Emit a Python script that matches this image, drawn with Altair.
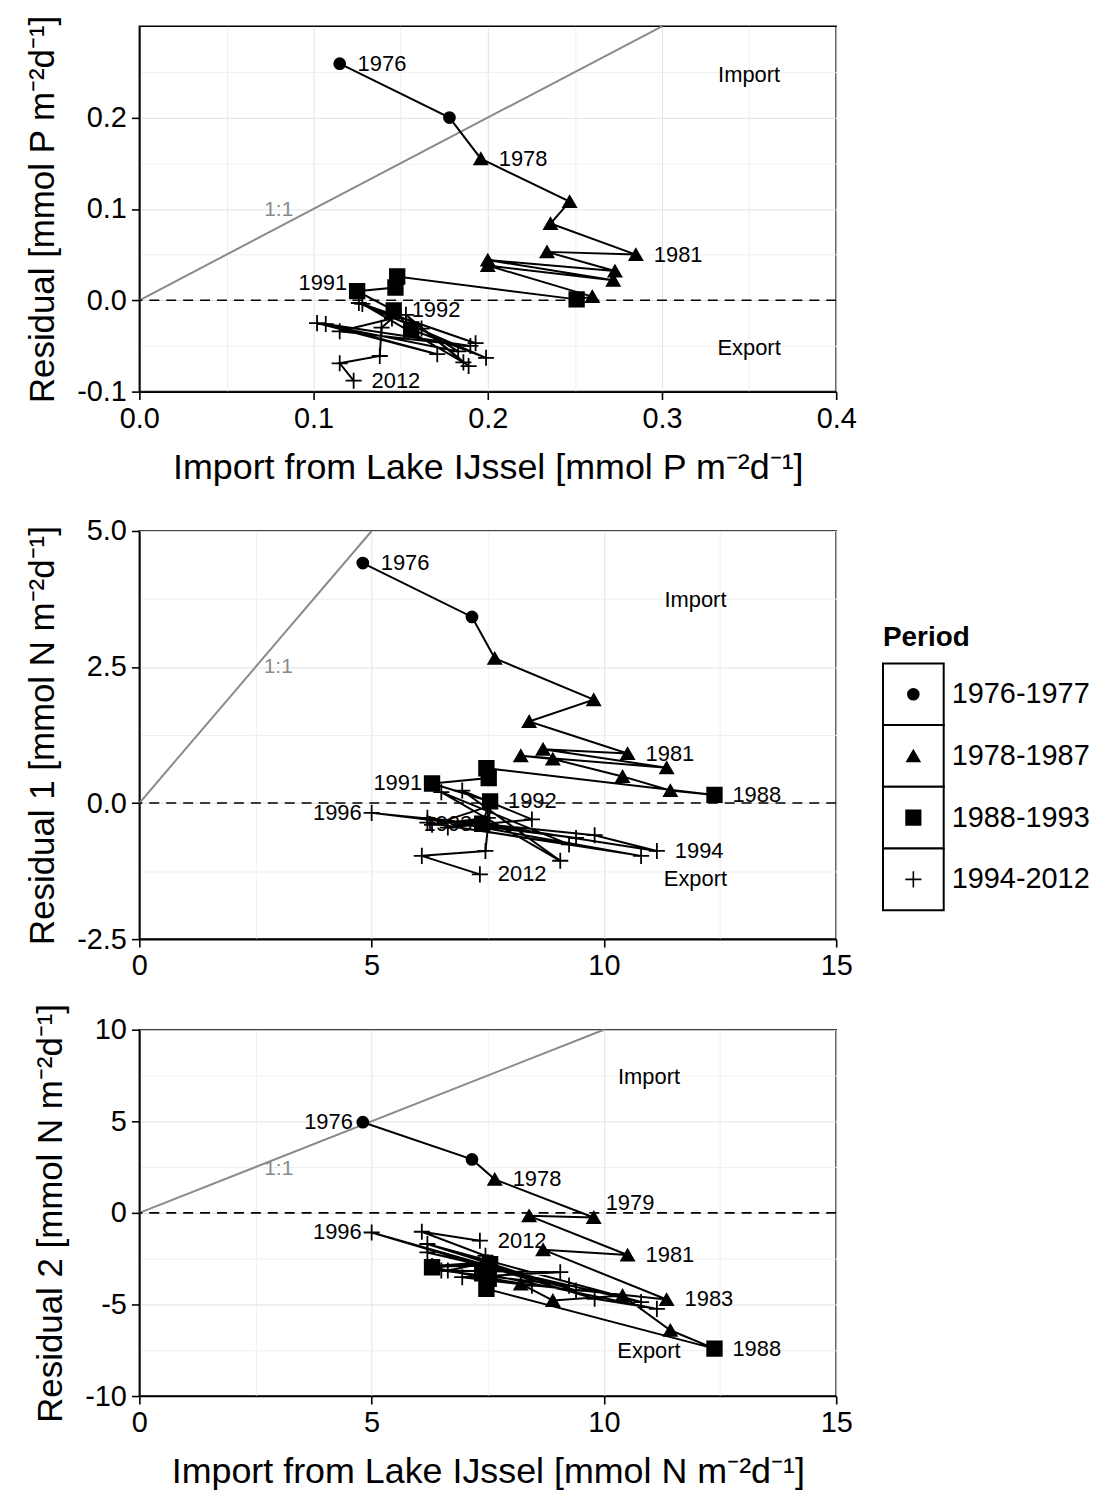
import altair as alt
import pandas as pd

YEARS = list(range(1976, 2013))
PERIOD_NAMES = ["1976-1977", "1978-1987", "1988-1993", "1994-2012"]
PERIOD_COUNTS = [2, 10, 6, 19]

P_IMPORT = [0.115, 0.178, 0.196, 0.247, 0.236, 0.285, 0.234, 0.273, 0.200, 0.272,
            0.200, 0.260, 0.251, 0.148, 0.147, 0.125, 0.146, 0.156,
            0.199, 0.126, 0.193, 0.128, 0.186, 0.153, 0.189, 0.162, 0.183, 0.102,
            0.171, 0.107, 0.190, 0.115, 0.145, 0.139, 0.138, 0.115, 0.123]
P_RESID = [0.259, 0.200, 0.155, 0.108, 0.084, 0.050, 0.053, 0.032, 0.044, 0.022,
           0.038, 0.004, 0.001, 0.026, 0.014, 0.010, -0.011, -0.032,
           -0.063, -0.003, -0.047, -0.004, -0.068, -0.016, -0.072, -0.031, -0.056, -0.025,
           -0.059, -0.026, -0.050, -0.034, -0.020, -0.030, -0.061, -0.069, -0.088]
N_IMPORT = [4.81, 7.16, 7.65, 9.78, 8.39, 10.51, 8.69, 11.35, 8.21, 8.90,
            10.40, 11.43, 12.38, 7.47, 7.52, 6.30, 7.55, 7.38,
            11.14, 9.80, 5.00, 9.40, 6.20, 10.80, 6.20, 9.25, 6.50, 9.06,
            6.95, 8.45, 6.64, 7.50, 6.30, 7.55, 7.45, 6.08, 7.33]
N_RESID1 = [4.41, 3.42, 2.66, 1.90, 1.50, 0.91, 0.99, 0.65, 0.87, 0.81,
            0.49, 0.23, 0.15, 0.64, 0.46, 0.36, 0.03, -0.38,
            -0.88, -0.59, -0.18, -0.64, -0.27, -0.97, -0.36, -0.76, 0.20, -1.06,
            0.23, -0.30, -0.45, -0.27, -0.40, -0.05, -0.88, -0.97, -1.31]
N_RESID2 = [4.95, 2.92, 1.83, -0.25, -0.16, -2.30, -2.01, -4.73, -3.88, -4.78,
            -4.51, -6.41, -7.41, -4.15, -3.60, -2.97, -2.80, -3.30,
            -5.24, -4.69, -1.07, -4.24, -1.70, -4.87, -2.16, -3.97, -3.15, -3.24,
            -3.51, -3.97, -3.15, -2.70, -2.90, -2.90, -2.34, -1.03, -1.52]

# year labels: (year, side) r=right, l=left, ru=right-up, lu=left-up
LABELS_P = [(1976, "r"), (1978, "r"), (1981, "r"), (1991, "lu"), (1992, "r"), (2012, "r")]
LABELS_N1 = [(1976, "r"), (1981, "r"), (1988, "r"), (1991, "l"), (1992, "r"),
             (1993, "l"), (1994, "r"), (1996, "l"), (2012, "r")]
LABELS_N2 = [(1976, "l"), (1978, "r"), (1979, "ru"), (1981, "r"), (1983, "r"),
             (1988, "r"), (1996, "l"), (2012, "r")]

# annotation texts (Import / Export) and 1:1 label, in data coordinates
ANN_TEXT = ["Import", "Export"]
ANN_P_X = [0.35, 0.35]
ANN_P_Y = [0.247, -0.052]
ANN_N1_X = [11.97, 11.97]
ANN_N1_Y = [3.74, -1.39]
ANN_N2_X = [10.97, 10.97]
ANN_N2_Y = [7.39, -7.55]
ONE_P = (0.08, 0.099)
ONE_N1 = (2.99, 2.5)
ONE_N2 = (3.0, 2.4)

FONT = "Liberation Sans"
SHAPES = ["circle", "triangle-up", "square", "M-1,0H1M0,-1V1"]
SIZES = [121, 260, 121, 440]

periods = []
for name, cnt in zip(PERIOD_NAMES, PERIOD_COUNTS):
    periods += [name] * cnt

shape_enc = alt.Shape("period:N", scale=alt.Scale(domain=PERIOD_NAMES, range=SHAPES), legend=None)
size_enc = alt.Size("period:N", scale=alt.Scale(domain=PERIOD_NAMES, range=SIZES), legend=None)


def fmt_expr(digits):
    if digits > 0:
        return f"(datum.value < 0 ? '-' : '') + format(abs(datum.value), '.{digits}f')"
    return "(datum.value < 0 ? '-' : '') + format(abs(datum.value), 'd')"


def make_axis(lo, hi, major, digits, title):
    minor = major / 2.0
    n = int(round((hi - lo) / minor))
    vals = [round(lo + i * minor, 6) for i in range(n + 1)]
    test = f"abs(datum.value / {major} - round(datum.value / {major})) < 0.001"
    return alt.Axis(
        values=vals,
        labelExpr=f"{test} ? {fmt_expr(digits)} : ''",
        tickOpacity={"condition": {"test": test, "value": 1}, "value": 0},
        gridColor={"condition": {"test": test, "value": "#e2e2e2"}, "value": "#efefef"},
        labelFlush=False,
        labelOverlap=False,
        grid=True,
        title=title,
    )


def panel(xs, ys, xdom, ydom, xaxis, yaxis, one_end, labels, ann_x, ann_y, one_pos, w, h):
    df = pd.DataFrame({"year": YEARS, "period": periods, "x": xs, "y": ys})
    xe = alt.X("x:Q", scale=alt.Scale(domain=xdom, nice=False, zero=False), axis=xaxis)
    ye = alt.Y("y:Q", scale=alt.Scale(domain=ydom, nice=False, zero=False), axis=yaxis)

    one = alt.Chart(pd.DataFrame({"x": [0, one_end], "y": [0, one_end]})).mark_line(
        color="#8a8a8a", strokeWidth=2).encode(x=xe, y=ye)
    zero = alt.Chart(pd.DataFrame({"y": [0]})).mark_rule(
        color="black", strokeWidth=1.6, strokeDash=[10, 7]).encode(y=ye)
    path = alt.Chart(df).mark_line(color="black", strokeWidth=2).encode(
        x=xe, y=ye, order="year:Q")
    pts = alt.Chart(df).mark_point(filled=True, fill="black", stroke="black",
                                   strokeWidth=1.8, opacity=1).encode(
        x=xe, y=ye, shape=shape_enc, size=size_enc)

    layers = [one, zero, path, pts]
    side_cfg = {"r": ("left", 18, 0), "l": ("right", -10, 0),
                "ru": ("left", 12, -14), "lu": ("right", -10, -8)}
    for side, (align, dx, dy) in side_cfg.items():
        yrs = [yr for yr, s in labels if s == side]
        if not yrs:
            continue
        sub = df[df["year"].isin(yrs)].copy()
        sub["label"] = sub["year"].astype(str)
        layers.append(alt.Chart(sub).mark_text(
            align=align, baseline="middle", dx=dx, dy=dy, fontSize=22, font=FONT,
            color="black").encode(x=xe, y=ye, text="label:N"))

    ann = pd.DataFrame({"x": ann_x, "y": ann_y, "t": ANN_TEXT})
    layers.append(alt.Chart(ann).mark_text(fontSize=22, font=FONT, color="black",
                                           baseline="middle").encode(x=xe, y=ye, text="t:N"))
    onedf = pd.DataFrame({"x": [one_pos[0]], "y": [one_pos[1]], "t": ["1:1"]})
    layers.append(alt.Chart(onedf).mark_text(fontSize=21, font=FONT, color="#8a8a8a",
                                             baseline="middle").encode(x=xe, y=ye, text="t:N"))
    return alt.layer(*layers).properties(width=w, height=h)


SUP = "m\u207b\u00b2d\u207b\u00b9]"
p1 = panel(P_IMPORT, P_RESID, [0, 0.4], [-0.1, 0.3],
           make_axis(0, 0.4, 0.1, 1, "Import from Lake IJssel [mmol P " + SUP),
           make_axis(-0.1, 0.25, 0.1, 1, "Residual [mmol P " + SUP),
           0.3, LABELS_P, ANN_P_X, ANN_P_Y, ONE_P, 700, 367)
p2 = panel(N_IMPORT, N_RESID1, [0, 15], [-2.5, 5],
           make_axis(0, 15, 5, 0, None),
           make_axis(-2.5, 5, 2.5, 1, "Residual 1 [mmol N " + SUP),
           5, LABELS_N1, ANN_N1_X, ANN_N1_Y, ONE_N1, 700, 410)
# blank spacer title widens the gap above the middle panel only
p2 = p2.properties(title=alt.TitleParams(" ", fontSize=10, offset=0))
p3 = panel(N_IMPORT, N_RESID2, [0, 15], [-10, 10],
           make_axis(0, 15, 5, 0, "Import from Lake IJssel [mmol N " + SUP),
           make_axis(-10, 10, 5, 0, "Residual 2 [mmol N " + SUP),
           10, LABELS_N2, ANN_N2_X, ANN_N2_Y, ONE_N2, 700, 368)

left = alt.vconcat(p1, p2, p3, spacing=20)

# manual legend with boxed keys
LW, LH = 222, 1000
BX0, BW, BY0, STEP = 5, 61, 640, 62
leg = pd.DataFrame({
    "period": PERIOD_NAMES,
    "x0": [BX0] * 4, "x1": [BX0 + BW] * 4,
    "y0": [BY0 + i * STEP for i in range(4)],
    "y1": [BY0 + (i + 1) * STEP for i in range(4)],
    "cx": [BX0 + BW / 2] * 4,
    "cy": [BY0 + i * STEP + STEP / 2 for i in range(4)],
    "tx": [BX0 + BW + 8] * 4,
})
lx = alt.Scale(domain=[0, LW], nice=False, zero=False)
ly = alt.Scale(domain=[LH, 0], nice=False, zero=False)
boxes = alt.Chart(leg).mark_rect(fill="white", stroke="black", strokeWidth=2).encode(
    x=alt.X("x0:Q", scale=lx, axis=None), x2="x1:Q",
    y=alt.Y("y0:Q", scale=ly, axis=None), y2="y1:Q")
lpts = alt.Chart(leg).mark_point(filled=True, fill="black", stroke="black",
                                 strokeWidth=1.6, opacity=1).encode(
    x=alt.X("cx:Q", scale=lx, axis=None), y=alt.Y("cy:Q", scale=ly, axis=None),
    shape=shape_enc, size=size_enc)
ltxt = alt.Chart(leg).mark_text(align="left", baseline="middle", fontSize=29,
                                font=FONT, color="black").encode(
    x=alt.X("tx:Q", scale=lx, axis=None), y=alt.Y("cy:Q", scale=ly, axis=None),
    text="period:N")
ltitle = alt.Chart(pd.DataFrame({"x": [BX0], "y": [BY0 - 25], "t": ["Period"]})).mark_text(
    align="left", baseline="middle", fontSize=28, fontWeight="bold", font=FONT,
    color="black").encode(
    x=alt.X("x:Q", scale=lx, axis=None), y=alt.Y("y:Q", scale=ly, axis=None), text="t:N")
legend = alt.layer(boxes, lpts, ltxt, ltitle).properties(
    width=LW, height=LH, view=alt.ViewBackground(stroke="transparent"))

chart = alt.hconcat(left, legend, spacing=20).properties(
    padding={"left": 25, "top": 10, "right": 0, "bottom": 0},
    background="white",
).configure_axis(
    labelFont=FONT, labelFontSize=29, labelColor="black", labelPadding=5,
    titleFont=FONT, titleFontWeight="normal", titleColor="black",
    domainColor="black", domainWidth=1.6, tickColor="black", tickWidth=1.6, tickSize=8,
    gridWidth=1,
).configure_axisX(
    titleFontSize=36, titlePadding=17,
).configure_axisY(
    titleFontSize=35, titlePadding=16,
).configure_view(stroke="black", strokeWidth=1.6)

chart.save("out.html", embed_options={"renderer": "svg", "actions": False})
